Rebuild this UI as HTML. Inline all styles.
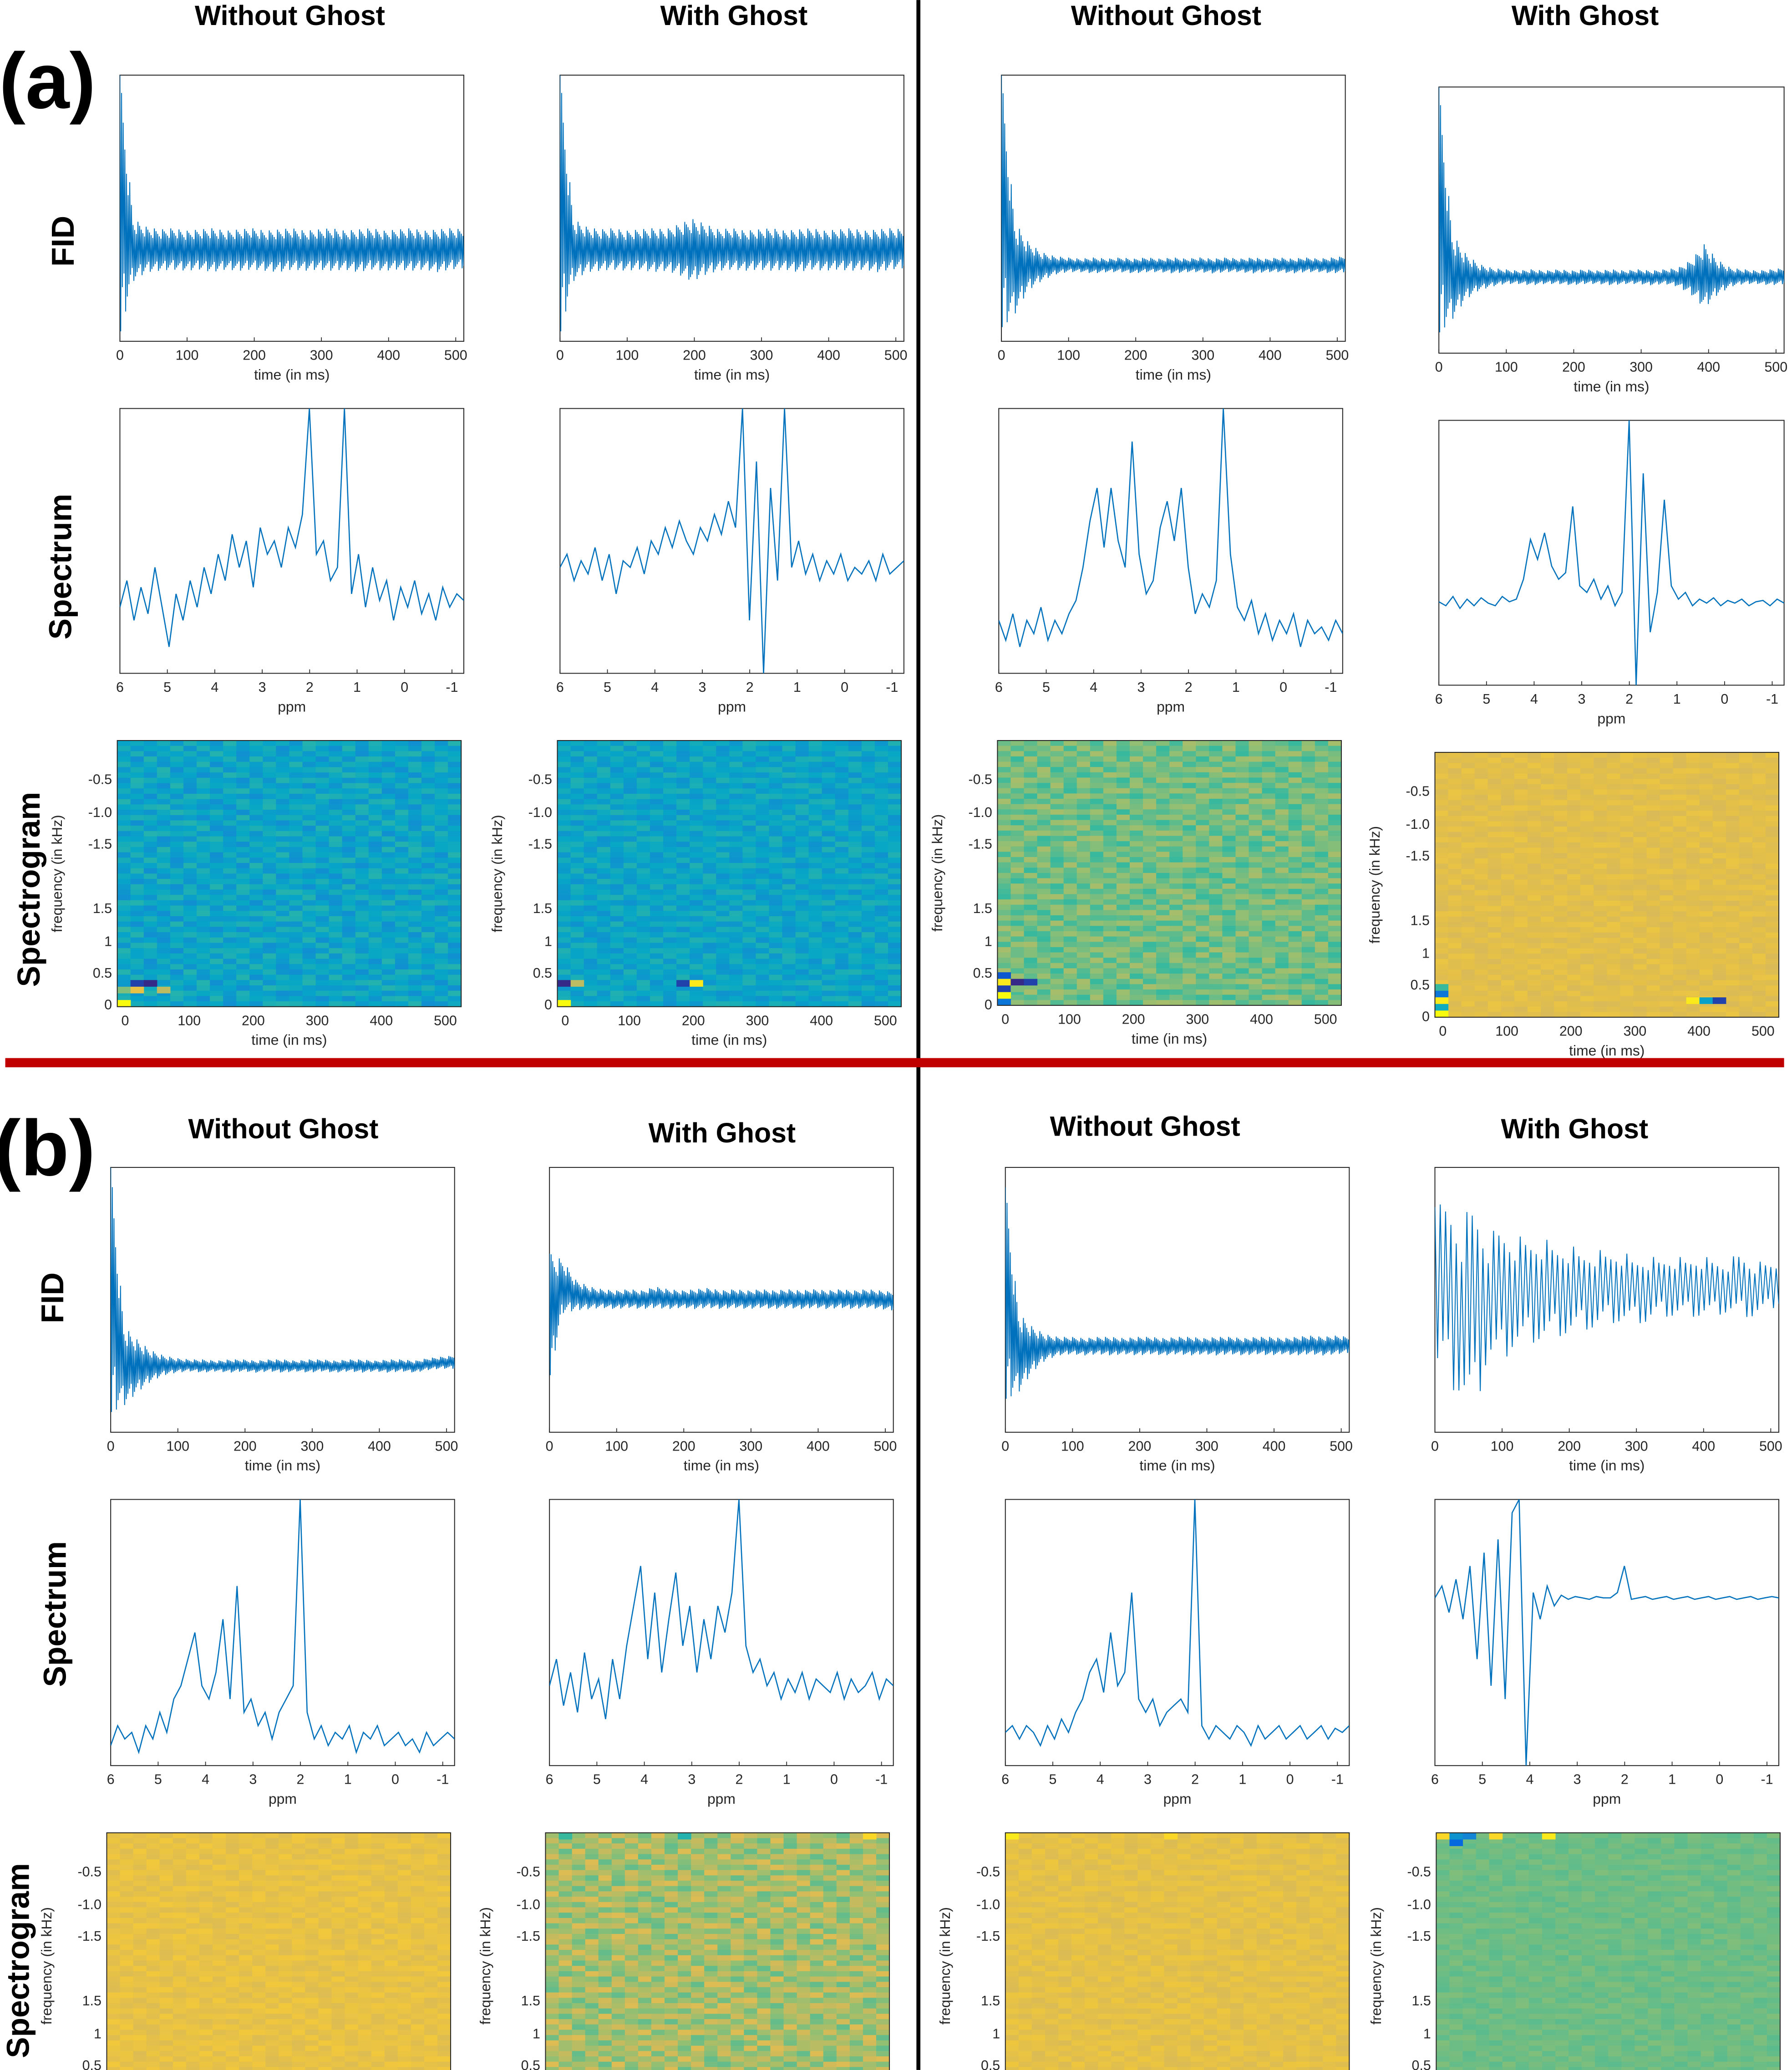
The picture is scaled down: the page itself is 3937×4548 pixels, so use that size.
<!DOCTYPE html>
<html><head><meta charset="utf-8">
<style>
html,body{margin:0;padding:0;background:#fff;}
svg{display:block;}
text{font-family:"Liberation Sans",Arial,sans-serif;}
</style></head>
<body>
<svg id="fig" xmlns="http://www.w3.org/2000/svg" width="3937" height="4548" viewBox="0 0 1360 1571">
<rect x="0" y="0" width="1360" height="1571" fill="#fff"/>
<g id="layer"></g>
</svg>
<script>
// ---------- DATA ----------
const fidTicks = [0,100,200,300,400,500];
const ppmTicks = [6,5,4,3,2,1,0,-1];
const sgYTicks = ["-0.5","-1.0","-1.5","1.5","1","0.5","0"];
const sgXTicks = [0,100,200,300,400,500];

// FID envelopes (upper / lower), 27 samples evenly over 0..512 ms
const fidA1Up = [1.0,-0.08,-0.14,-0.16,-0.15,-0.17,-0.16,-0.15,-0.17,-0.16,-0.15,-0.17,-0.16,-0.15,-0.17,-0.16,-0.15,-0.17,-0.16,-0.15,-0.17,-0.16,-0.15,-0.17,-0.16,-0.15,-0.16];
const fidA1Lo = [-0.95,-0.55,-0.48,-0.47,-0.46,-0.47,-0.46,-0.48,-0.46,-0.47,-0.46,-0.47,-0.48,-0.46,-0.47,-0.46,-0.47,-0.46,-0.48,-0.46,-0.47,-0.46,-0.47,-0.46,-0.48,-0.46,-0.45];
const fidA2Up = [1.0,-0.08,-0.14,-0.16,-0.15,-0.17,-0.16,-0.15,-0.16,-0.12,-0.08,-0.12,-0.16,-0.15,-0.17,-0.16,-0.15,-0.17,-0.16,-0.15,-0.17,-0.16,-0.15,-0.17,-0.16,-0.15,-0.16];
const fidA2Lo = [-0.95,-0.55,-0.48,-0.47,-0.46,-0.47,-0.46,-0.48,-0.47,-0.5,-0.55,-0.5,-0.47,-0.46,-0.47,-0.46,-0.47,-0.46,-0.48,-0.46,-0.47,-0.46,-0.47,-0.46,-0.48,-0.46,-0.45];
const fidA3Up = [1.0,-0.1,-0.25,-0.33,-0.36,-0.37,-0.38,-0.37,-0.38,-0.37,-0.38,-0.37,-0.38,-0.37,-0.38,-0.37,-0.38,-0.37,-0.38,-0.37,-0.38,-0.37,-0.38,-0.37,-0.38,-0.37,-0.36];
const fidA3Lo = [-0.9,-0.8,-0.62,-0.55,-0.5,-0.48,-0.48,-0.49,-0.48,-0.48,-0.49,-0.48,-0.48,-0.49,-0.48,-0.48,-0.49,-0.48,-0.48,-0.49,-0.48,-0.48,-0.49,-0.48,-0.48,-0.49,-0.48];
const fidA4Up = [1.0,-0.1,-0.25,-0.33,-0.36,-0.37,-0.38,-0.37,-0.38,-0.37,-0.38,-0.37,-0.38,-0.37,-0.38,-0.37,-0.38,-0.37,-0.36,-0.3,-0.18,-0.3,-0.36,-0.37,-0.38,-0.37,-0.36];
const fidA4Lo = [-0.85,-0.75,-0.6,-0.53,-0.5,-0.48,-0.48,-0.49,-0.48,-0.48,-0.49,-0.48,-0.48,-0.49,-0.48,-0.48,-0.49,-0.48,-0.5,-0.56,-0.66,-0.56,-0.5,-0.48,-0.48,-0.49,-0.48];
const fidB1Up = [1.0,-0.2,-0.3,-0.38,-0.42,-0.44,-0.45,-0.45,-0.46,-0.45,-0.45,-0.46,-0.45,-0.45,-0.46,-0.45,-0.45,-0.46,-0.45,-0.45,-0.46,-0.45,-0.45,-0.46,-0.44,-0.43,-0.42];
const fidB1Lo = [-0.85,-0.8,-0.7,-0.62,-0.57,-0.55,-0.54,-0.55,-0.54,-0.55,-0.54,-0.55,-0.54,-0.55,-0.54,-0.55,-0.54,-0.55,-0.54,-0.55,-0.54,-0.55,-0.54,-0.55,-0.53,-0.52,-0.52];
const fidB2Up = [0.35,0.3,0.15,0.1,0.08,0.07,0.08,0.07,0.1,0.08,0.07,0.08,0.09,0.07,0.08,0.07,0.08,0.07,0.08,0.07,0.08,0.07,0.08,0.07,0.08,0.07,0.06];
const fidB2Lo = [-0.6,-0.1,-0.08,-0.07,-0.06,-0.07,-0.06,-0.07,-0.06,-0.07,-0.06,-0.07,-0.06,-0.07,-0.06,-0.07,-0.06,-0.07,-0.06,-0.07,-0.06,-0.07,-0.06,-0.07,-0.06,-0.07,-0.08];
const fidB3Up = [0.85,-0.1,-0.2,-0.26,-0.28,-0.28,-0.29,-0.28,-0.28,-0.29,-0.28,-0.28,-0.29,-0.28,-0.28,-0.29,-0.28,-0.28,-0.29,-0.28,-0.28,-0.29,-0.28,-0.27,-0.28,-0.27,-0.28];
const fidB3Lo = [-0.75,-0.7,-0.55,-0.46,-0.42,-0.41,-0.42,-0.41,-0.42,-0.41,-0.42,-0.41,-0.42,-0.41,-0.42,-0.41,-0.42,-0.41,-0.42,-0.41,-0.42,-0.41,-0.42,-0.41,-0.42,-0.41,-0.4];
const fidB4Up = [0.7,0.75,0.6,0.75,0.5,0.55,0.5,0.45,0.5,0.4,0.45,0.35,0.4,0.35,0.4,0.3,0.35,0.3,0.35,0.3,0.35,0.3,0.3,0.35,0.3,0.28,0.3];
const fidB4Lo = [-0.4,-0.6,-0.8,-0.83,-0.5,-0.45,-0.4,-0.3,-0.35,-0.25,-0.3,-0.2,-0.25,-0.15,-0.2,-0.15,-0.2,-0.1,-0.15,-0.1,-0.15,-0.1,-0.12,-0.1,-0.15,-0.08,-0.05];

const specA1 = [-0.5,-0.3,-0.6,-0.35,-0.55,-0.2,-0.5,-0.8,-0.4,-0.6,-0.3,-0.5,-0.2,-0.4,-0.1,-0.3,0.05,-0.2,0.0,-0.35,0.1,-0.1,0.0,-0.2,0.1,-0.05,0.2,1.0,-0.1,0.0,-0.3,-0.2,1.0,-0.4,-0.1,-0.5,-0.2,-0.45,-0.3,-0.6,-0.35,-0.5,-0.3,-0.55,-0.4,-0.6,-0.35,-0.5,-0.4,-0.45];
const specA2 = [-0.2,-0.1,-0.3,-0.15,-0.25,-0.05,-0.3,-0.1,-0.4,-0.15,-0.2,-0.05,-0.25,0.0,-0.1,0.1,-0.05,0.15,0.0,-0.1,0.1,0.0,0.2,0.05,0.3,0.1,1.0,-0.6,0.6,-1.0,0.4,-0.3,1.0,-0.2,0.0,-0.25,-0.1,-0.3,-0.15,-0.25,-0.1,-0.3,-0.2,-0.25,-0.15,-0.3,-0.1,-0.25,-0.2,-0.15];
const specA3 = [-0.6,-0.75,-0.55,-0.8,-0.6,-0.7,-0.5,-0.75,-0.6,-0.7,-0.55,-0.45,-0.2,0.15,0.4,-0.05,0.4,0.0,-0.2,0.75,-0.1,-0.4,-0.3,0.1,0.3,0.0,0.4,-0.2,-0.55,-0.4,-0.5,-0.3,1.0,-0.1,-0.5,-0.6,-0.45,-0.7,-0.55,-0.75,-0.6,-0.7,-0.55,-0.8,-0.6,-0.7,-0.65,-0.75,-0.6,-0.7];
const specA4 = [-0.37,-0.4,-0.33,-0.42,-0.35,-0.4,-0.34,-0.38,-0.4,-0.33,-0.37,-0.35,-0.2,0.1,-0.05,0.15,-0.1,-0.2,-0.15,0.35,-0.25,-0.3,-0.2,-0.35,-0.25,-0.4,-0.3,1.0,-1.0,0.6,-0.6,-0.3,0.4,-0.25,-0.35,-0.3,-0.4,-0.35,-0.38,-0.34,-0.4,-0.36,-0.38,-0.35,-0.4,-0.37,-0.36,-0.4,-0.35,-0.38];
const specB1 = [-0.85,-0.7,-0.8,-0.75,-0.9,-0.7,-0.8,-0.6,-0.75,-0.5,-0.4,-0.2,0.0,-0.4,-0.5,-0.3,0.1,-0.5,0.35,-0.6,-0.5,-0.7,-0.6,-0.8,-0.6,-0.5,-0.4,1.0,-0.6,-0.8,-0.7,-0.85,-0.75,-0.8,-0.7,-0.9,-0.75,-0.8,-0.7,-0.85,-0.8,-0.75,-0.85,-0.8,-0.9,-0.75,-0.85,-0.8,-0.75,-0.8];
const specB2 = [-0.4,-0.2,-0.55,-0.3,-0.6,-0.15,-0.5,-0.35,-0.65,-0.2,-0.5,-0.1,0.2,0.5,-0.2,0.3,-0.3,0.1,0.45,-0.1,0.2,-0.3,0.1,-0.2,0.2,0.0,0.3,1.0,-0.1,-0.3,-0.2,-0.4,-0.3,-0.5,-0.35,-0.45,-0.3,-0.5,-0.35,-0.4,-0.45,-0.3,-0.5,-0.35,-0.45,-0.4,-0.3,-0.5,-0.35,-0.4];
const specB3 = [-0.75,-0.7,-0.8,-0.7,-0.75,-0.85,-0.7,-0.8,-0.65,-0.75,-0.6,-0.5,-0.3,-0.2,-0.45,0.0,-0.4,-0.3,0.3,-0.5,-0.6,-0.5,-0.7,-0.6,-0.55,-0.5,-0.6,1.0,-0.7,-0.8,-0.7,-0.75,-0.8,-0.7,-0.75,-0.85,-0.7,-0.8,-0.75,-0.7,-0.8,-0.75,-0.7,-0.8,-0.75,-0.7,-0.8,-0.72,-0.75,-0.7];
const specB4 = [0.26,0.35,0.15,0.4,0.1,0.5,-0.2,0.6,-0.4,0.7,-0.5,0.9,1.0,-1.0,0.3,0.1,0.35,0.2,0.28,0.25,0.27,0.26,0.25,0.27,0.26,0.26,0.3,0.5,0.25,0.26,0.27,0.25,0.26,0.27,0.25,0.26,0.27,0.25,0.26,0.27,0.25,0.26,0.27,0.25,0.26,0.27,0.25,0.26,0.27,0.26];

const sgTexture = ["4637285193746","7254918362570","3816472950361","5092736481925","8361529047383","2749063815264",
"6518340297156","1975628430719","4830917562842","7263504189375","3507189642036","9142763058481","5689241307594","2316975840632",
"6874130529147","4051896273520","8725349016863","1398672405179","5460218937342","7831594620758"];
const sgMean = [0.37,0.37,0.58,0.78,0.8,0.66,0.79,0.575];
const sgSpread = [0.08,0.07,0.08,0.03,0.035,0.1,0.035,0.025];
// hot cells: [time-column (of 26), row (of 40), value]
const sgHotA1 = [[0,39,1.0],[1,36,0.05],[2,36,0.0],[0,37,0.6],[1,37,0.8],[3,37,0.7]];
const sgHotA2 = [[0,39,1.0],[0,36,0.0],[1,36,0.7],[9,36,0.05],[10,36,0.95]];
const sgHotA3 = [[0,35,0.1],[0,36,0.95],[0,37,0.05],[0,38,1.0],[0,39,0.2],[1,36,0.0],[2,36,0.05],[1,37,0.6]];
const sgHotA4 = [[0,35,0.5],[0,36,0.2],[0,37,0.95],[0,38,0.4],[0,39,1.0],[19,37,0.95],[20,37,0.35],[21,37,0.05]];
const sgHotB2 = [[1,0,0.5],[10,0,0.45],[24,0,0.9]];
const sgHotB3 = [[0,0,0.95],[12,0,0.9]];
const sgHotB4 = [[0,0,0.9],[1,1,0.15],[1,0,0.3],[2,0,0.25],[4,0,0.9],[8,0,0.95]];

// ---------- HELPERS ----------
const NS="http://www.w3.org/2000/svg";
const layer=document.getElementById('layer');
function el(tag,attrs,parent){const e=document.createElementNS(NS,tag);for(const k in attrs)e.setAttribute(k,attrs[k]);(parent||layer).appendChild(e);return e;}
function txt(s,x,y,size,attrs,parent){const t=el('text',Object.assign({x:x,y:y,'font-size':size,fill:'#262626','text-anchor':'middle'},attrs||{}),parent);t.textContent=s;return t;}
const parula=['#352a87','#0363e1','#1485d4','#06a7c6','#38b99e','#92bf73','#d9ba56','#fcce2e','#f9fb0e'];
function hex(c){return [parseInt(c.substr(1,2),16),parseInt(c.substr(3,2),16),parseInt(c.substr(5,2),16)];}
function cmap(v){v=Math.max(0,Math.min(1,v));const p=v*(parula.length-1);const i=Math.min(parula.length-2,Math.floor(p));const f=p-i;const a=hex(parula[i]),b=hex(parula[i+1]);return 'rgb('+a.map((x,k)=>Math.round(x+(b[k]-x)*f)).join(',')+')';}

function frame(name,x0,y0,w,h,kind){
  const g=el('g',{});
  
  
  el('rect',{x:x0,y:y0,width:w,height:h,fill:'#fff',stroke:'#262626','stroke-width':0.7},g);
  let xDomain,ticks,xlabel;
  if(kind==='fid'){xDomain=[0,512];ticks=fidTicks;xlabel='time (in ms)';}
  else {xDomain=[6,-1.25];ticks=ppmTicks;xlabel='ppm';}
  const xScale=v=>x0+(v-xDomain[0])/(xDomain[1]-xDomain[0])*w;
  const yScale=v=>y0+h/2-v*h/2;
  const cp=el('clipPath',{id:'c'+name},g);el('rect',{x:x0,y:y0,width:w,height:h},cp);
  ticks.forEach(t=>{const x=xScale(t);el('line',{x1:x,x2:x,y1:y0+h,y2:y0+h-3,stroke:'#262626','stroke-width':0.6},g);txt(String(t),x,y0+h+14,10.5,{},g);});
  const xl=txt(xlabel,x0+w/2,y0+h+29,11,{},g);
  
  
  return {g,xScale,yScale,xDomain};
}

function fidPanel(name,x0,y0,w,h,up,lo,nPts){
  const f=frame(name,x0,y0,w,h,'fid');
  const m=up.length;
  const env=(arr,t)=>{const p=t*(m-1);const i=Math.min(m-2,Math.floor(p));const fr=p-i;return arr[i]+(arr[i+1]-arr[i])*fr;};
  const pts=[];
  for(let k=0;k<nPts;k++){
    const t=k/(nPts-1);
    const v=(k%2===0)?env(up,t):env(lo,t);
    const jitter=((k*7)%5)/4;
    const mid=(env(up,t)+env(lo,t))/2;
    const vv=mid+(v-mid)*(0.55+0.45*jitter);
    pts.push(f.xScale(t*512).toFixed(2)+','+f.yScale(k<3?v:vv).toFixed(2));
  }
  const pl=el('polyline',{points:pts.join(' '),fill:'none',stroke:'#0072bd','stroke-width':0.7,'clip-path':'url(#c'+name+')'},f.g);
  
  
}

function specPanel(name,x0,y0,w,h,data){
  const f=frame(name,x0,y0,w,h,'ppm');
  const n=data.length;
  const pts=data.map((v,i)=>{const xv=f.xDomain[0]+(f.xDomain[1]-f.xDomain[0])*i/(n-1);return f.xScale(xv).toFixed(1)+','+f.yScale(v).toFixed(1);}).join(' ');
  const pl=el('polyline',{points:pts,fill:'none',stroke:'#0072bd','stroke-width':0.9,'clip-path':'url(#c'+name+')'},f.g);
  
  
}

function sgPanel(name,x0,y0,w,h,idx,hot){
  const g=el('g',{});
  
  
  const rows=50, cols=26;
  const cw=w/cols, rh=h/rows;
  for(let r=0;r<rows;r++){for(let c=0;c<cols;c++){
    const t=parseInt(sgTexture[(r+Math.floor(c/13)*7)%20][(c+Math.floor(r/20)*5)%13])/9;
    const v=sgMean[idx]+sgSpread[idx]*(t-0.5)*2;
    el('rect',{x:(x0+c*cw).toFixed(2),y:(y0+r*rh).toFixed(2),width:(cw+0.3).toFixed(2),height:(rh+0.3).toFixed(2),fill:cmap(v)},g);
  }}
  const hw=w/26, hh=h/40;
  (hot||[]).forEach(hc=>{const cell=el('rect',{x:x0+hc[0]*hw,y:y0+hc[1]*hh,width:hw+0.2,height:hh,fill:cmap(hc[2])},g);
    
    });
  el('rect',{x:x0,y:y0,width:w,height:h,fill:'none',stroke:'#262626','stroke-width':0.7},g);
  const yOff=[29,54,78,127,152,176,200];
  sgYTicks.forEach((t,i)=>txt(t,x0-4,y0+yOff[i]+4,10.5,{'text-anchor':'end'},g));
  const xScale=v=>x0+6+(v/500)*243*(w/261);
  sgXTicks.forEach(t=>txt(String(t),xScale(t),y0+h+14,10.5,{},g));
  txt('time (in ms)',x0+w/2,y0+h+29,11,{},g);
  const yl=txt('frequency (in kHz)',0,0,11,{transform:'translate('+(x0-42)+','+(y0+h/2)+') rotate(-90)'},g);
  
  
}

// ---------- LAYOUT ----------
fidPanel('fid-a1',91,57,261,202,fidA1Up,fidA1Lo,420);
fidPanel('fid-a2',425,57,261,202,fidA2Up,fidA2Lo,420);
fidPanel('fid-a3',760,57,261,202,fidA3Up,fidA3Lo,420);
fidPanel('fid-a4',1092,66,262,202,fidA4Up,fidA4Lo,420);
specPanel('spectrum-a1',91,310,261,201,specA1);
specPanel('spectrum-a2',425,310,261,201,specA2);
specPanel('spectrum-a3',758,310,261,201,specA3);
specPanel('spectrum-a4',1092,319,262,201,specA4);
sgPanel('spectrogram-a1',89,562,261,202,0,sgHotA1);
sgPanel('spectrogram-a2',423,562,261,202,1,sgHotA2);
sgPanel('spectrogram-a3',757,562,261,201,2,sgHotA3);
sgPanel('spectrogram-a4',1089,571,261,201,3,sgHotA4);

fidPanel('fid-b1',84,886,261,201,fidB1Up,fidB1Lo,420);
fidPanel('fid-b2',417,886,261,201,fidB2Up,fidB2Lo,420);
fidPanel('fid-b3',763,886,261,201,fidB3Up,fidB3Lo,420);
fidPanel('fid-b4',1089,886,261,201,fidB4Up,fidB4Lo,130);
specPanel('spectrum-b1',84,1138,261,202,specB1);
specPanel('spectrum-b2',417,1138,261,202,specB2);
specPanel('spectrum-b3',763,1138,261,202,specB3);
specPanel('spectrum-b4',1089,1138,261,202,specB4);
sgPanel('spectrogram-b1',81,1391,261,202,4,[]);
sgPanel('spectrogram-b2',414,1391,261,202,5,sgHotB2);
sgPanel('spectrogram-b3',763,1391,261,202,6,sgHotB3);
sgPanel('spectrogram-b4',1090,1391,261,202,7,sgHotB4);

// headers & labels
const hdrA=[[220,'Without Ghost'],[557,'With Ghost'],[885,'Without Ghost'],[1203,'With Ghost']];
hdrA.forEach(h=>{const t=txt(h[1],h[0],19,21,{'font-weight':'bold',fill:'#000'});
  
  });
const hdrB=[[215,'Without Ghost'],[548,'With Ghost'],[869,'Without Ghost'],[1195,'With Ghost']];
const hdrBy=[864,867,862,864];
hdrB.forEach((h,i)=>{const t=txt(h[1],h[0],hdrBy[i],21,{'font-weight':'bold',fill:'#000'});
  
  });
const pa=txt('(a)',36,82,60,{'font-weight':'bold',fill:'#000'});


const pb=txt('(b)',34,892,60,{'font-weight':'bold',fill:'#000'});


const rowLabels=[['FID',56,183],['Spectrum',54,430],['Spectrogram',30,675],['FID',48,985],['Spectrum',50,1225],['Spectrogram',22,1488]];
rowLabels.forEach(r=>{const t=txt(r[0],0,0,24,{'font-weight':'bold',fill:'#000',transform:'translate('+r[1]+','+r[2]+') rotate(-90)'});
  
  });
const vl=el('line',{x1:697,x2:697,y1:0,y2:1571,stroke:'#000','stroke-width':3});


const hl=el('rect',{x:4,y:803,width:1350,height:7,fill:'#c00000'});


</script>
</body></html>
